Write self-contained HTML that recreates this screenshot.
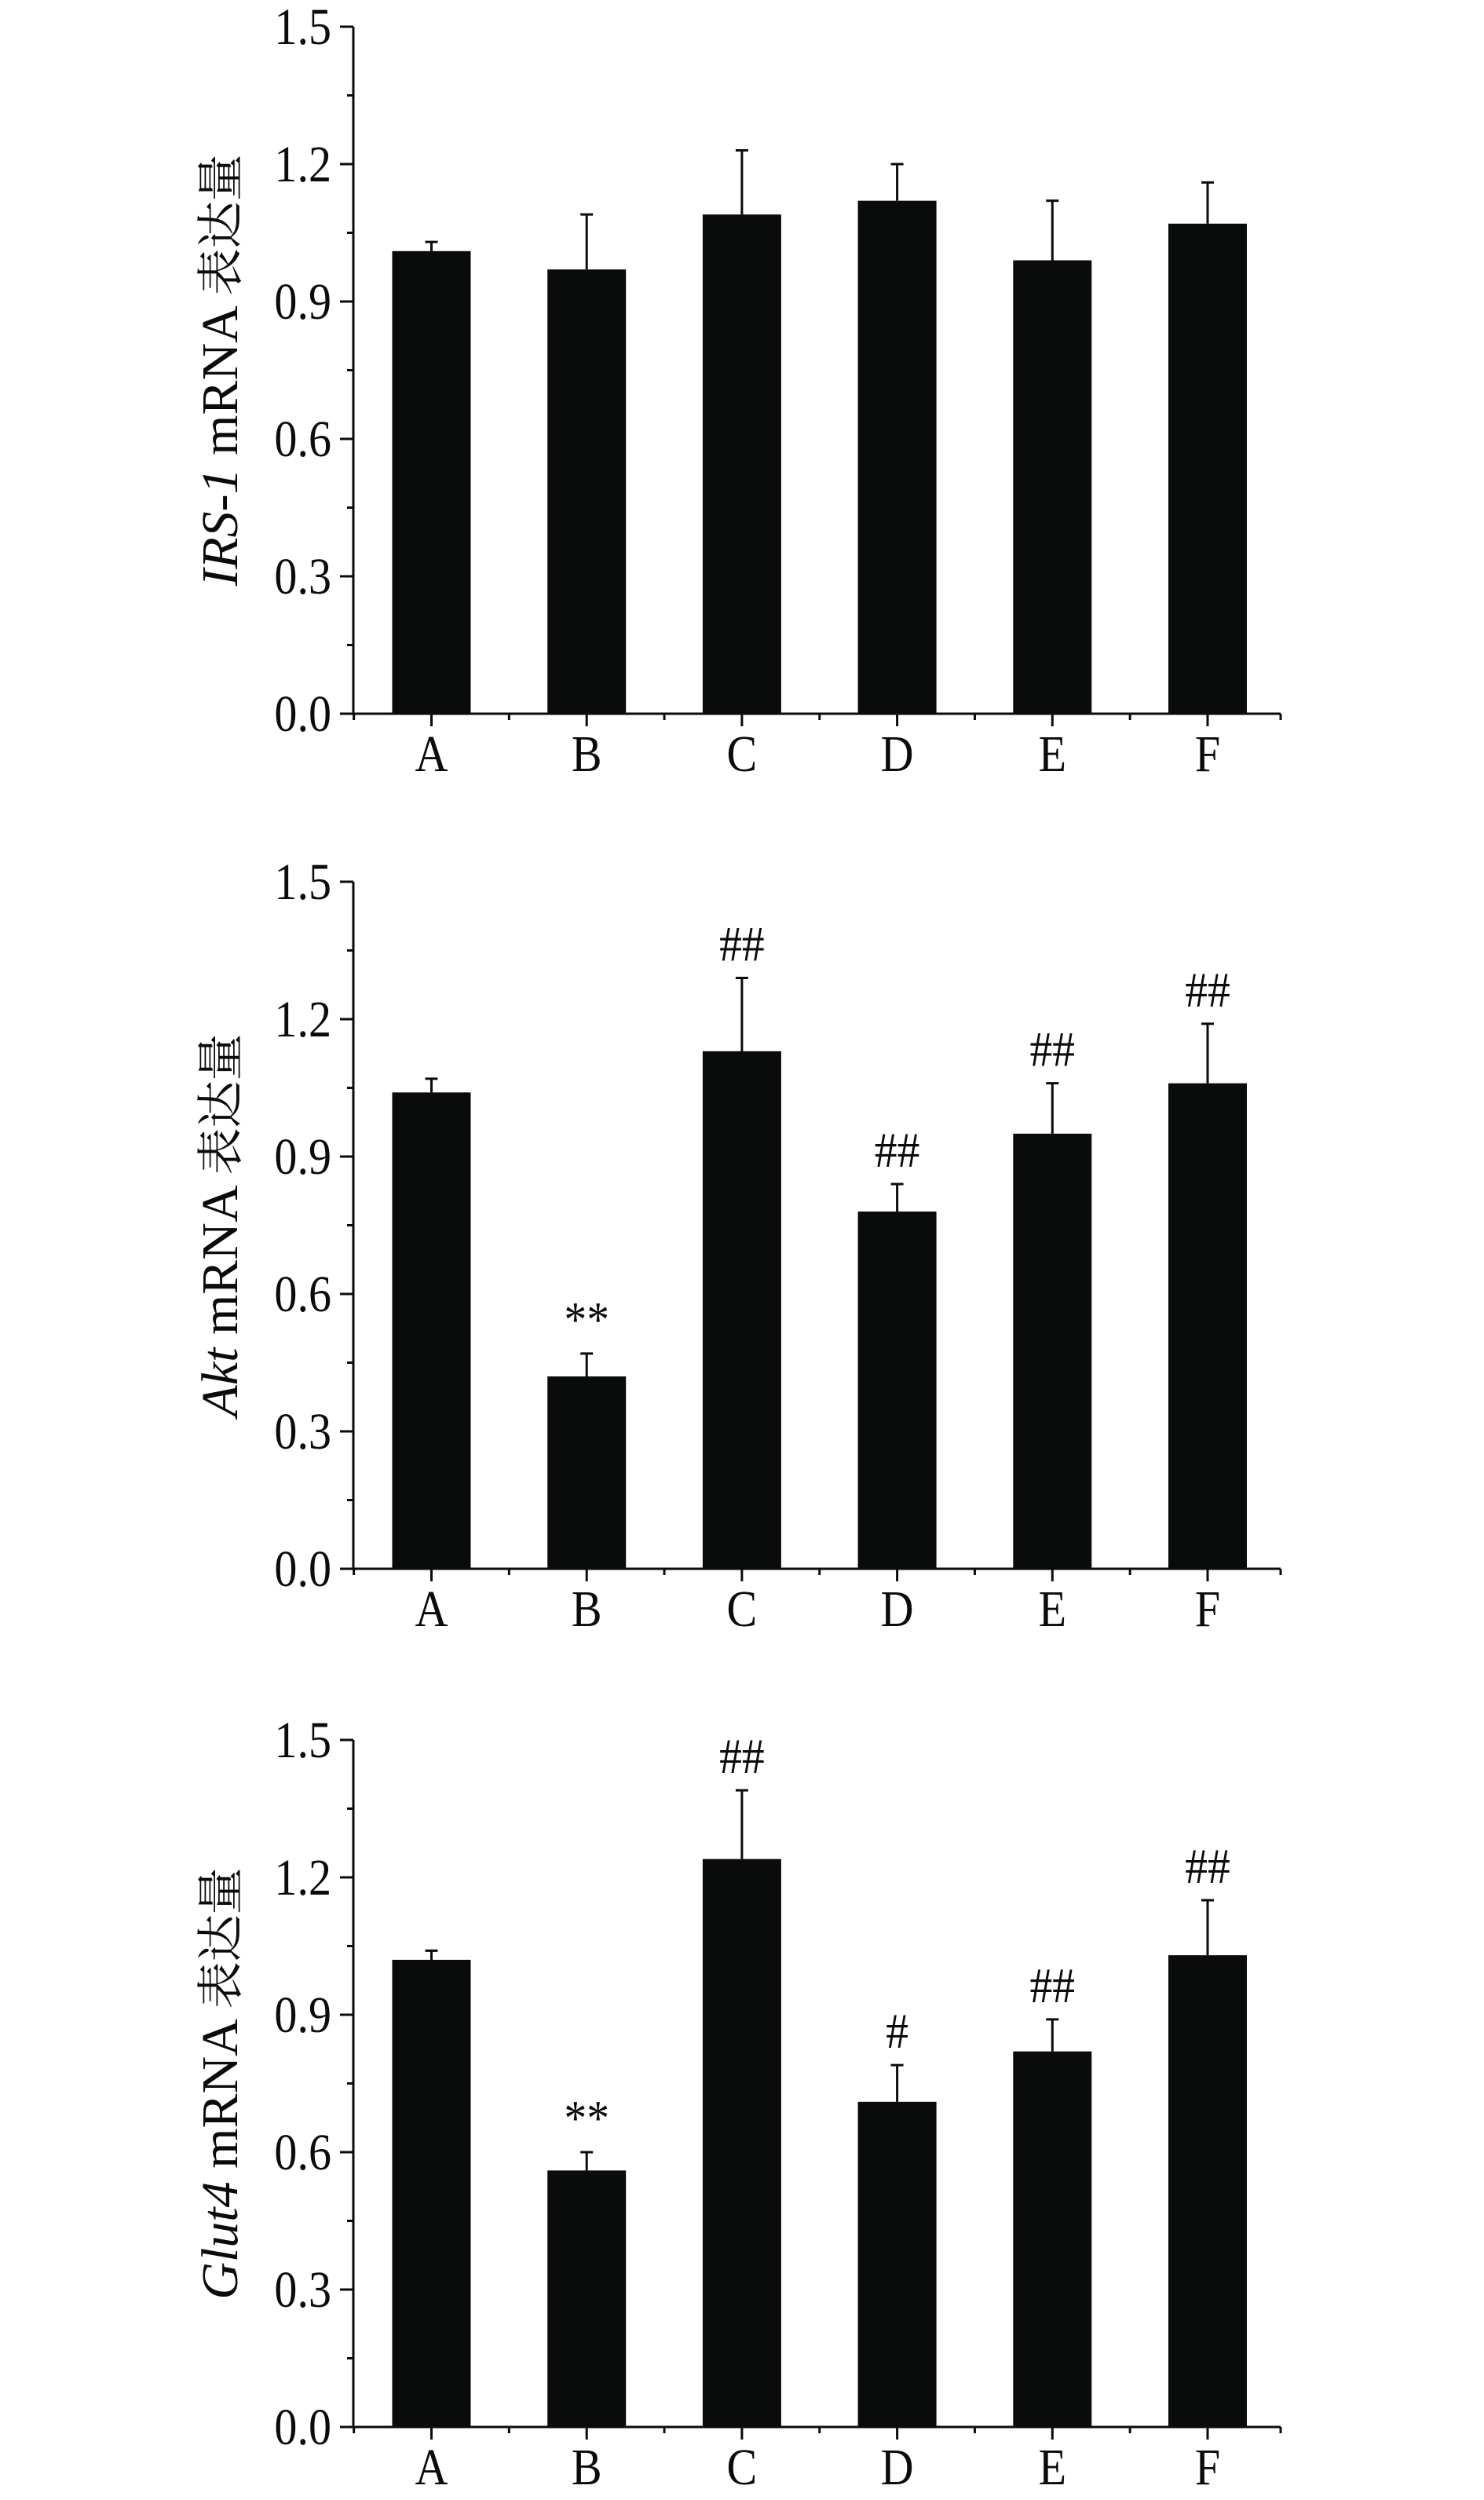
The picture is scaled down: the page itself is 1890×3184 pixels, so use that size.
<!DOCTYPE html>
<html><head><meta charset="utf-8"><style>
html,body{margin:0;padding:0;background:#fff;}
svg{display:block;}
text,tspan{font-family:"Liberation Serif","Times New Roman",Times,serif;fill:#0a0c0b;}
tspan.cjk{font-family:"Noto Serif CJK SC","Noto Sans CJK SC",serif;}
</style></head><body>
<svg id="fig" width="1890" height="3184" viewBox="0 0 1890 3184" xmlns="http://www.w3.org/2000/svg"></svg>
<script>
const categories = ["A","B","C","D","E","F"];
const yTicks = [0.0,0.3,0.6,0.9,1.2,1.5];
const yTickLabels = ["0.0","0.3","0.6","0.9","1.2","1.5"];
const irsValues = [1.01,0.97,1.09,1.12,0.99,1.07];
const irsErrTop = [1.03,1.09,1.23,1.20,1.12,1.16];
const irsMarks = ["","","","","",""];
const aktValues = [1.04,0.42,1.13,0.78,0.95,1.06];
const aktErrTop = [1.07,0.47,1.29,0.84,1.06,1.19];
const aktMarks = ["","**","##","##","##","##"];
const glutValues = [1.02,0.56,1.24,0.71,0.82,1.03];
const glutErrTop = [1.04,0.60,1.39,0.79,0.89,1.15];
const glutMarks = ["","**","##","#","##","##"];

const NS="http://www.w3.org/2000/svg";
const svg=document.getElementById('fig');
function mk(tag,attrs,parent){const e=document.createElementNS(NS,tag);for(const k in attrs)e.setAttribute(k,attrs[k]);(parent||svg).appendChild(e);return e;}
const FONT='"Liberation Serif", "Times New Roman", serif';

const panels=[
 {name:"irs1",gene:"IRS-1",values:irsValues,err:irsErrTop,marks:irsMarks,zeroY:909},
 {name:"akt",gene:"Akt",values:aktValues,err:aktErrTop,marks:aktMarks,zeroY:1998},
 {name:"glut4",gene:"Glut4",values:glutValues,err:glutErrTop,marks:glutMarks,zeroY:3091}
];
const axX=450, axRight=1631, plotH=875, yMax=1.5, step=197.7, firstC=549.5, barW=100;

panels.forEach(p=>{
 const g=mk('g',{});
 
 
 const y=v=>p.zeroY-v/yMax*plotH;
 const x=i=>firstC+i*step;
 p.values.forEach((v,i)=>{
  const b=mk('rect',{x:x(i)-barW/2,y:y(v),width:barW,height:p.zeroY-y(v),fill:'#0a0c0b'},g);
  
  
  const e=mk('path',{d:`M${x(i)} ${y(v)}V${y(p.err[i])}M${x(i)-8} ${y(p.err[i])}H${x(i)+8}`,stroke:'#0a0c0b','stroke-width':3,fill:'none'},g);
  
  
  if(p.marks[i]){
   const t=mk('text',{'text-anchor':'middle','font-size':64,'font-family':FONT,transform:`translate(${x(i)} ${y(p.err[i])-22}) scale(0.9 1)`},g);
   t.textContent=p.marks[i];
   
   
  }
 });
 const ax=mk('path',{d:`M${axX} ${y(yMax)}V${p.zeroY}H${axRight}`,stroke:'#0a0c0b','stroke-width':3,fill:'none'},g);
 
 
 yTicks.forEach((v,i)=>{
  mk('line',{x1:axX-17,x2:axX,y1:y(v),y2:y(v),stroke:'#0a0c0b','stroke-width':3},g);
  if(i<yTicks.length-1){const m=(v+yTicks[i+1])/2;mk('line',{x1:axX-8,x2:axX,y1:y(m),y2:y(m),stroke:'#0a0c0b','stroke-width':3},g);}
  const t=mk('text',{'text-anchor':'end','font-size':66,'font-family':FONT,transform:`translate(422 ${y(v)+22}) scale(0.88 1)`},g);
  t.textContent=yTickLabels[i];
  
  
 });
 categories.forEach((c,i)=>{
  mk('line',{x1:x(i),x2:x(i),y1:p.zeroY,y2:p.zeroY+16,stroke:'#0a0c0b','stroke-width':3},g);
  const mx=x(i)-step/2;
  mk('line',{x1:mx,x2:mx,y1:p.zeroY,y2:p.zeroY+8,stroke:'#0a0c0b','stroke-width':3},g);
  const t=mk('text',{'text-anchor':'middle','font-size':66,'font-family':FONT,transform:`translate(${x(i)} ${p.zeroY+73}) scale(0.88 1)`},g);
  t.textContent=c;
  
  
 });
 const mx=x(5)+step/2;
 mk('line',{x1:Math.min(mx,axRight),x2:Math.min(mx,axRight),y1:p.zeroY,y2:p.zeroY+8,stroke:'#0a0c0b','stroke-width':3},g);
 const cy=p.zeroY-plotH/2;
 const t=mk('text',{'text-anchor':'middle','font-size':66,'font-family':FONT,transform:`translate(302 ${cy}) rotate(-90)`},g);
 const it=mk('tspan',{'font-style':'italic'},t); it.textContent=p.gene;
 const mid=mk('tspan',{},t); mid.textContent=' mRNA ';
 const rest=mk('tspan',{'class':'cjk','font-size':60},t); rest.textContent='表达量';
 
 
});
</script>
</body></html>
